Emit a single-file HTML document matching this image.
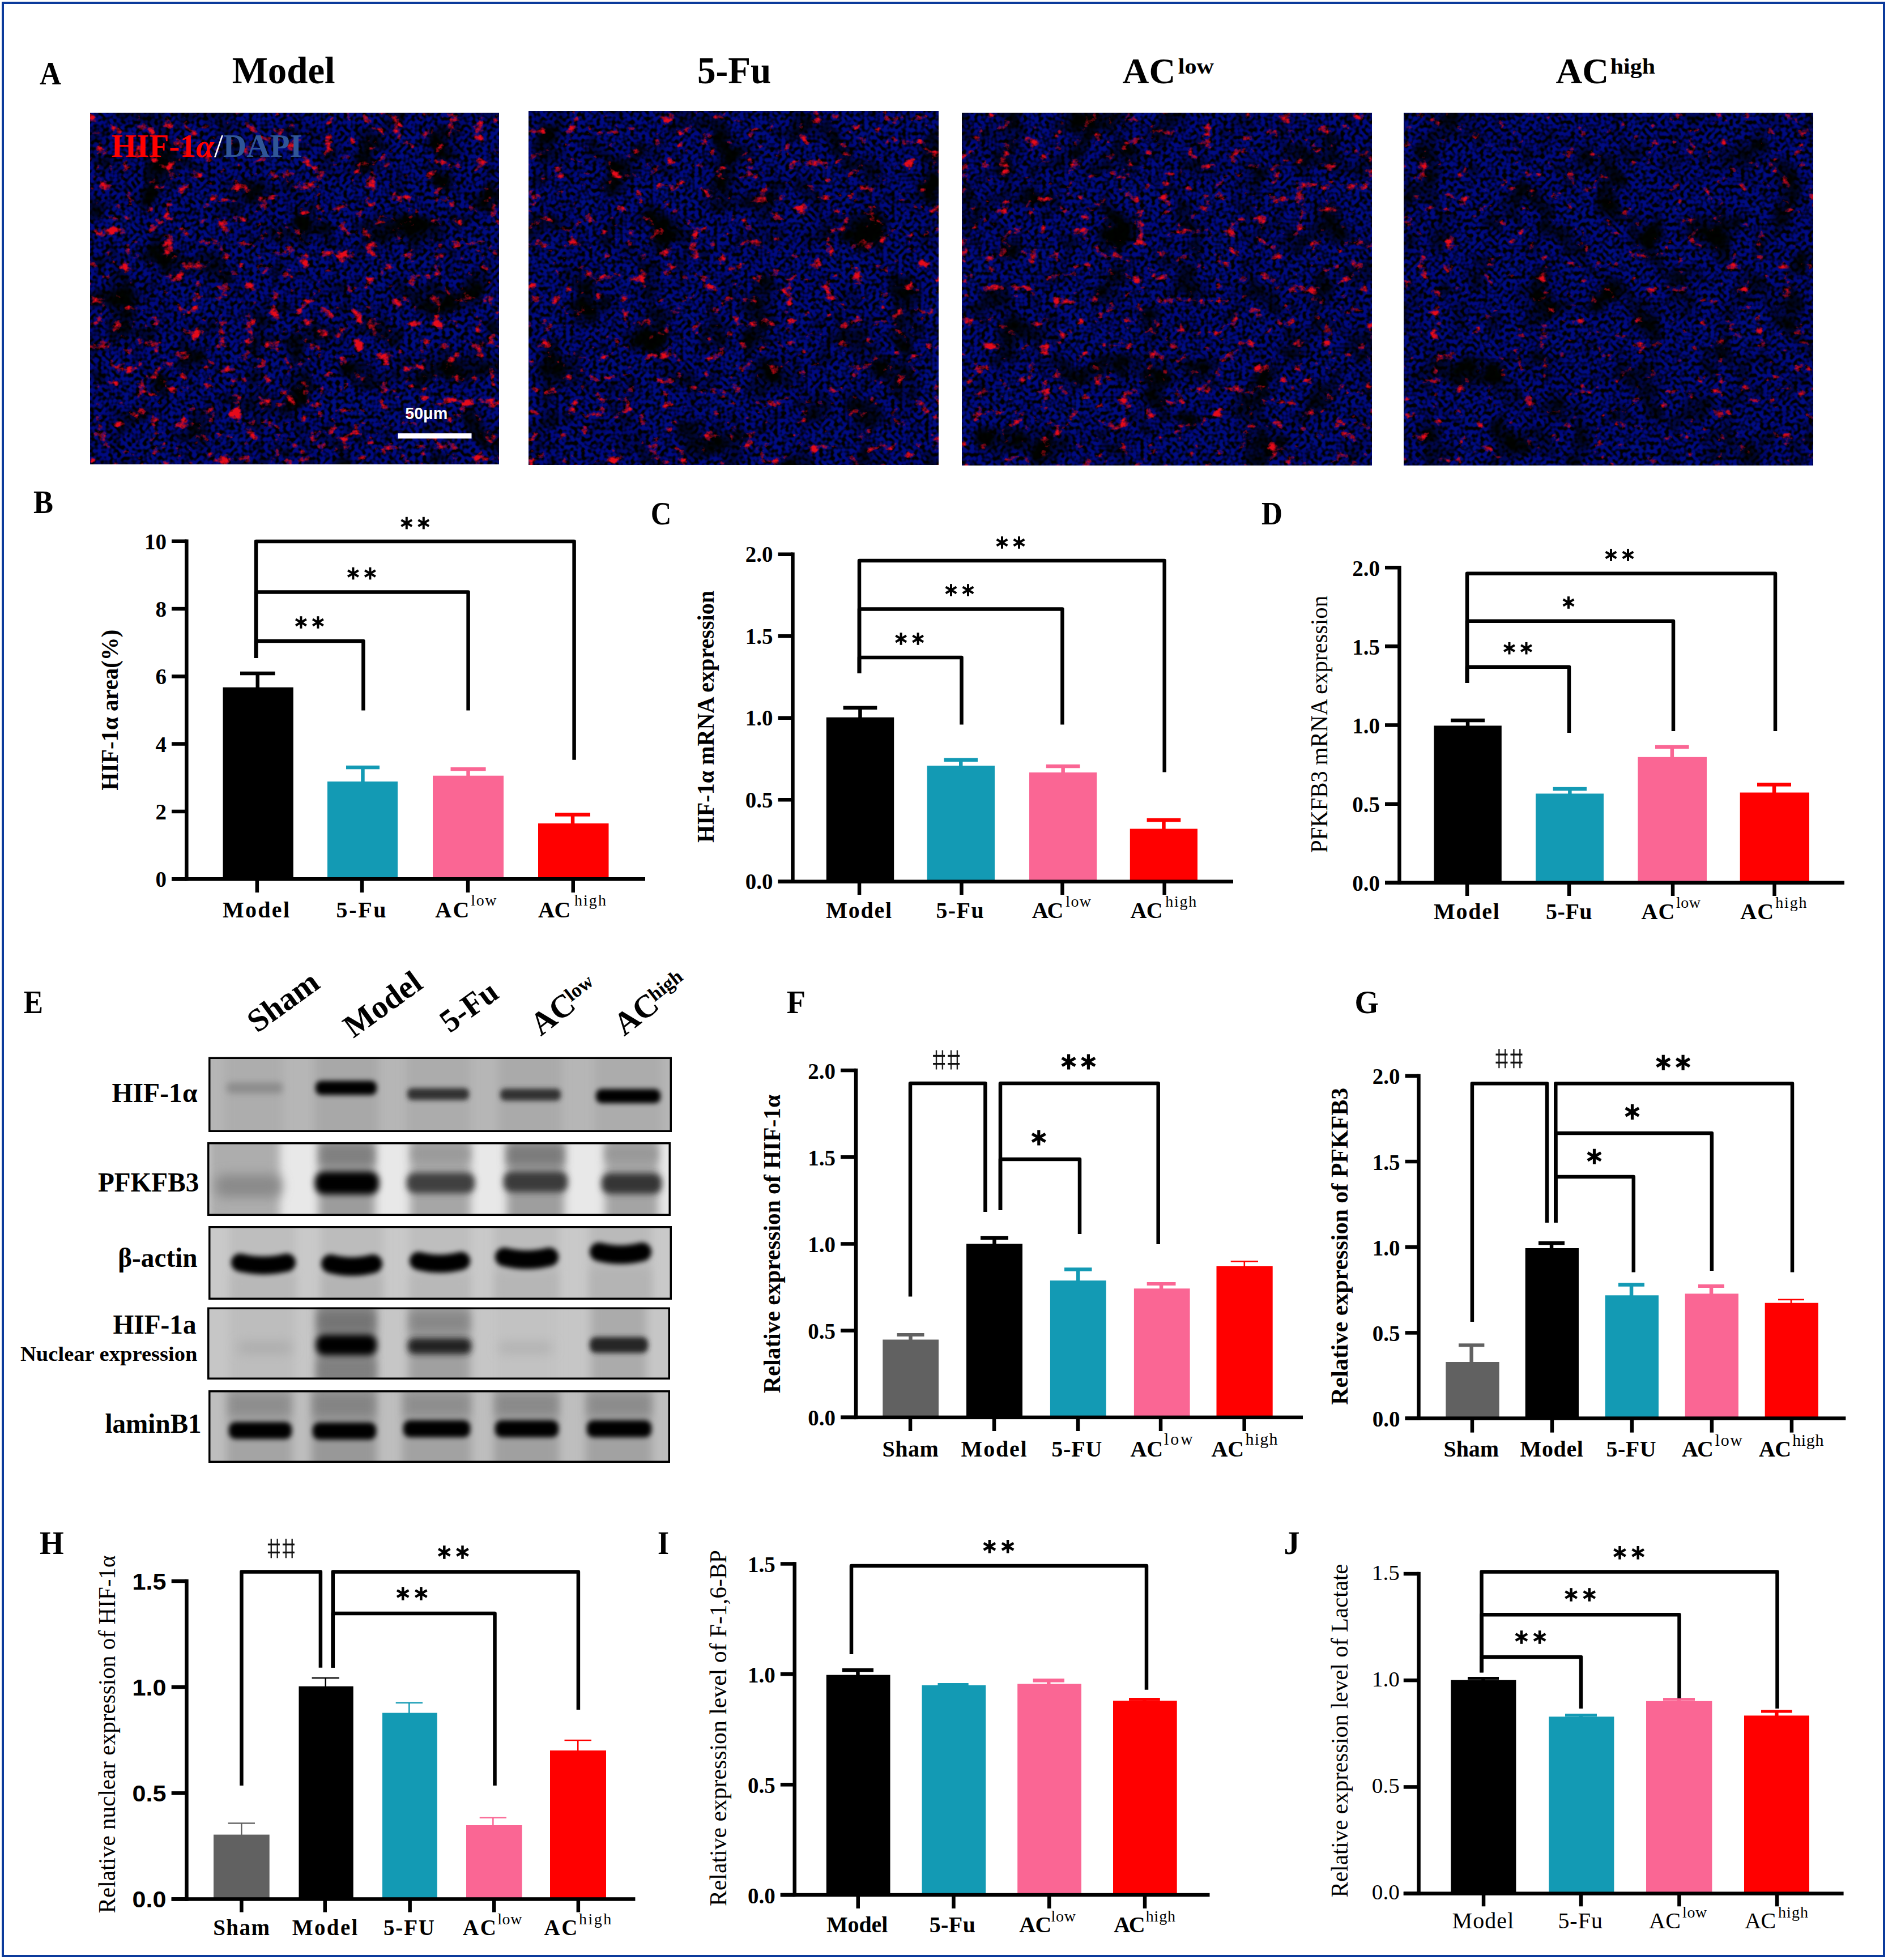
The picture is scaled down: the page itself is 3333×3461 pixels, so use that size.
<!DOCTYPE html>
<html><head><meta charset="utf-8"><title>Figure</title>
<style>html,body{margin:0;padding:0;background:#fff;}svg{display:block;}</style>
</head><body>
<svg width="3333" height="3461" viewBox="0 0 3333 3461">
<defs>
<filter id="m1" x="0" y="0" width="100%" height="100%" color-interpolation-filters="sRGB">
  <feTurbulence type="fractalNoise" baseFrequency="0.15" numOctaves="1" seed="3" result="n1"/>
  <feColorMatrix in="n1" type="matrix" values="0 0 0 0 0  0 0 0.2 0 -0.06  0 0 4.0 0 -1.35  0 0 0 0 1" result="c0"/>
  <feColorMatrix in="c0" type="matrix" values="1 0 0 0 0  0 1 0 0 0  0 0 0.500 0 0  0 0 0 0 1" result="cells"/>
  <feTurbulence type="fractalNoise" baseFrequency="0.016" numOctaves="3" seed="8" result="n2"/>
  <feColorMatrix in="n2" type="matrix" values="0 0 1 0 0  0 0 1 0 0  0 0 3.4 0 -0.72  0 0 0 0 1" result="patch"/>
  <feBlend in="cells" in2="patch" mode="multiply" result="blue"/>
  <feTurbulence type="fractalNoise" baseFrequency="0.042 0.05" numOctaves="4" seed="14" result="n3"/>
  <feColorMatrix in="n3" type="matrix" values="0 0 0 0 0.9  0 0 0 0 0.04  0 0 0 0 0.1  5.5 0 0 0 -3.42" result="red"/>
  <feComposite in="red" in2="blue" operator="over"/>
</filter>
<filter id="m2" x="0" y="0" width="100%" height="100%" color-interpolation-filters="sRGB">
  <feTurbulence type="fractalNoise" baseFrequency="0.15" numOctaves="1" seed="23" result="n1"/>
  <feColorMatrix in="n1" type="matrix" values="0 0 0 0 0  0 0 0.2 0 -0.06  0 0 4.0 0 -1.35  0 0 0 0 1" result="c0"/>
  <feColorMatrix in="c0" type="matrix" values="1 0 0 0 0  0 1 0 0 0  0 0 0.500 0 0  0 0 0 0 1" result="cells"/>
  <feTurbulence type="fractalNoise" baseFrequency="0.016" numOctaves="3" seed="28" result="n2"/>
  <feColorMatrix in="n2" type="matrix" values="0 0 1 0 0  0 0 1 0 0  0 0 3.4 0 -0.72  0 0 0 0 1" result="patch"/>
  <feBlend in="cells" in2="patch" mode="multiply" result="blue"/>
  <feTurbulence type="fractalNoise" baseFrequency="0.042 0.05" numOctaves="4" seed="34" result="n3"/>
  <feColorMatrix in="n3" type="matrix" values="0 0 0 0 0.9  0 0 0 0 0.04  0 0 0 0 0.1  5.5 0 0 0 -3.6" result="red"/>
  <feComposite in="red" in2="blue" operator="over"/>
</filter>
<filter id="m3" x="0" y="0" width="100%" height="100%" color-interpolation-filters="sRGB">
  <feTurbulence type="fractalNoise" baseFrequency="0.15" numOctaves="1" seed="41" result="n1"/>
  <feColorMatrix in="n1" type="matrix" values="0 0 0 0 0  0 0 0.2 0 -0.06  0 0 4.0 0 -1.35  0 0 0 0 1" result="c0"/>
  <feColorMatrix in="c0" type="matrix" values="1 0 0 0 0  0 1 0 0 0  0 0 0.500 0 0  0 0 0 0 1" result="cells"/>
  <feTurbulence type="fractalNoise" baseFrequency="0.016" numOctaves="3" seed="46" result="n2"/>
  <feColorMatrix in="n2" type="matrix" values="0 0 1 0 0  0 0 1 0 0  0 0 3.4 0 -0.72  0 0 0 0 1" result="patch"/>
  <feBlend in="cells" in2="patch" mode="multiply" result="blue"/>
  <feTurbulence type="fractalNoise" baseFrequency="0.042 0.05" numOctaves="4" seed="52" result="n3"/>
  <feColorMatrix in="n3" type="matrix" values="0 0 0 0 0.9  0 0 0 0 0.04  0 0 0 0 0.1  5.5 0 0 0 -3.55" result="red"/>
  <feComposite in="red" in2="blue" operator="over"/>
</filter>
<filter id="m4" x="0" y="0" width="100%" height="100%" color-interpolation-filters="sRGB">
  <feTurbulence type="fractalNoise" baseFrequency="0.15" numOctaves="1" seed="57" result="n1"/>
  <feColorMatrix in="n1" type="matrix" values="0 0 0 0 0  0 0 0.2 0 -0.06  0 0 4.0 0 -1.35  0 0 0 0 1" result="c0"/>
  <feColorMatrix in="c0" type="matrix" values="1 0 0 0 0  0 1 0 0 0  0 0 0.500 0 0  0 0 0 0 1" result="cells"/>
  <feTurbulence type="fractalNoise" baseFrequency="0.016" numOctaves="3" seed="62" result="n2"/>
  <feColorMatrix in="n2" type="matrix" values="0 0 1 0 0  0 0 1 0 0  0 0 3.4 0 -0.72  0 0 0 0 1" result="patch"/>
  <feBlend in="cells" in2="patch" mode="multiply" result="blue"/>
  <feTurbulence type="fractalNoise" baseFrequency="0.042 0.05" numOctaves="4" seed="68" result="n3"/>
  <feColorMatrix in="n3" type="matrix" values="0 0 0 0 0.9  0 0 0 0 0.04  0 0 0 0 0.1  5.5 0 0 0 -3.75" result="red"/>
  <feComposite in="red" in2="blue" operator="over"/>
</filter><filter id="blu4" filterUnits="userSpaceOnUse" x="360" y="2150" width="840" height="160"><feGaussianBlur stdDeviation="4"/></filter><filter id="bl3" x="-30%" y="-100%" width="160%" height="300%"><feGaussianBlur stdDeviation="3"/></filter><filter id="bl4" x="-30%" y="-100%" width="160%" height="300%"><feGaussianBlur stdDeviation="4"/></filter><filter id="bl5" x="-30%" y="-100%" width="160%" height="300%"><feGaussianBlur stdDeviation="5"/></filter><filter id="bl6" x="-30%" y="-100%" width="160%" height="300%"><feGaussianBlur stdDeviation="6"/></filter><filter id="bl8" x="-30%" y="-100%" width="160%" height="300%"><feGaussianBlur stdDeviation="8"/></filter><filter id="bl10" x="-30%" y="-100%" width="160%" height="300%"><feGaussianBlur stdDeviation="10"/></filter><clipPath id="cb1"><rect x="368" y="1866.5" width="818" height="132.5"/></clipPath><clipPath id="cb2"><rect x="366" y="2017" width="818" height="130"/></clipPath><clipPath id="cb3"><rect x="368" y="2165" width="818" height="130"/></clipPath><clipPath id="cb4"><rect x="366" y="2308.5" width="817" height="127.5"/></clipPath><clipPath id="cb5"><rect x="368" y="2455" width="815" height="128"/></clipPath></defs>
<rect width="3333" height="3461" fill="#fff"/>
<rect x="5" y="5" width="3321" height="3449" fill="none" stroke="#0B3A9B" stroke-width="4"/>
<rect x="159.5" y="199.0" width="721.0" height="621.0" fill="#000" filter="url(#m1)"/>
<rect x="933.7" y="196.5" width="723.1" height="623.8" fill="#000" filter="url(#m2)"/>
<rect x="1698.0" y="199.0" width="724.0" height="623.0" fill="#000" filter="url(#m3)"/>
<rect x="2478.0" y="199.0" width="723.0" height="623.0" fill="#000" filter="url(#m4)"/>
<text x="70.0" y="148.6" font-size="56" font-family="Liberation Serif" font-weight="bold" textLength="38.0" lengthAdjust="spacingAndGlyphs">A</text>
<text x="409.7" y="146.8" font-size="67" font-family="Liberation Serif" font-weight="bold" textLength="182.0" lengthAdjust="spacingAndGlyphs">Model</text>
<text x="1230.9" y="146.8" font-size="67" font-family="Liberation Serif" font-weight="bold" textLength="130.5" lengthAdjust="spacingAndGlyphs">5-Fu</text>
<text x="1981.6" y="147.0" font-size="64" font-family="Liberation Serif" font-weight="bold" textLength="93.6" lengthAdjust="spacingAndGlyphs">AC</text>
<text x="2079.7" y="129.5" font-size="38" font-family="Liberation Serif" font-weight="bold" textLength="63.3" lengthAdjust="spacingAndGlyphs">low</text>
<text x="2746.5" y="147.0" font-size="64" font-family="Liberation Serif" font-weight="bold" textLength="93.6" lengthAdjust="spacingAndGlyphs">AC</text>
<text x="2842.7" y="129.5" font-size="38" font-family="Liberation Serif" font-weight="bold" textLength="79.3" lengthAdjust="spacingAndGlyphs">high</text>
<text x="196.8" y="277.3" font-size="57" font-family="Liberation Serif" font-weight="bold" textLength="337" lengthAdjust="spacingAndGlyphs"><tspan fill="#FF0000">HIF-1</tspan><tspan fill="#FF0000" font-style="italic">α</tspan><tspan fill="#fff" font-weight="normal">/</tspan><tspan fill="#2F5597">DAPI</tspan></text>
<text x="715.2" y="739.8" font-size="30" font-family="Liberation Sans" font-weight="bold" textLength="75.0" lengthAdjust="spacingAndGlyphs" fill="#fff">50μm</text>
<rect x="702.5" y="765.2" width="130.0" height="9.2" fill="#fff" />
<rect x="393.5" y="1213.7" width="124.3" height="338.5" fill="#000" />
<rect x="578.0" y="1380.0" width="124.0" height="172.2" fill="#139AB4" />
<rect x="764.0" y="1369.7" width="125.0" height="182.5" fill="#FA6694" />
<rect x="950.0" y="1454.0" width="124.5" height="98.2" fill="#FF0000" />
<rect x="424.0" y="1185.8" width="61.5" height="6.5" fill="#000" />
<rect x="451.5" y="1189.0" width="6.5" height="25.7" fill="#000" />
<rect x="611.0" y="1351.8" width="59.0" height="6.5" fill="#139AB4" />
<rect x="637.2" y="1355.0" width="6.5" height="26.0" fill="#139AB4" />
<rect x="795.5" y="1354.8" width="62.1" height="6.5" fill="#FA6694" />
<rect x="823.3" y="1358.0" width="6.5" height="12.7" fill="#FA6694" />
<rect x="980.0" y="1435.2" width="62.0" height="6.5" fill="#FF0000" />
<rect x="1007.8" y="1438.5" width="6.5" height="16.5" fill="#FF0000" />
<rect x="326.1" y="952.5" width="6.5" height="602.9" fill="#000" />
<rect x="303.0" y="1549.0" width="836.0" height="6.5" fill="#000" />
<rect x="303.0" y="952.5" width="26.4" height="6.5" fill="#000" />
<text x="294.0" y="969.8" font-size="39" font-family="Liberation Serif" font-weight="bold" text-anchor="end">10</text>
<rect x="303.0" y="1071.8" width="26.4" height="6.5" fill="#000" />
<text x="294.0" y="1089.1" font-size="39" font-family="Liberation Serif" font-weight="bold" text-anchor="end">8</text>
<rect x="303.0" y="1191.2" width="26.4" height="6.5" fill="#000" />
<text x="294.0" y="1208.4" font-size="39" font-family="Liberation Serif" font-weight="bold" text-anchor="end">6</text>
<rect x="303.0" y="1310.3" width="26.4" height="6.5" fill="#000" />
<text x="294.0" y="1327.6" font-size="39" font-family="Liberation Serif" font-weight="bold" text-anchor="end">4</text>
<rect x="303.0" y="1429.7" width="26.4" height="6.5" fill="#000" />
<text x="294.0" y="1446.9" font-size="39" font-family="Liberation Serif" font-weight="bold" text-anchor="end">2</text>
<rect x="303.0" y="1549.0" width="26.4" height="6.5" fill="#000" />
<text x="294.0" y="1566.2" font-size="39" font-family="Liberation Serif" font-weight="bold" text-anchor="end">0</text>
<rect x="450.6" y="1552.2" width="6.5" height="23.8" fill="#000" />
<rect x="635.8" y="1552.2" width="6.5" height="23.8" fill="#000" />
<rect x="822.8" y="1552.2" width="6.5" height="23.8" fill="#000" />
<rect x="1008.5" y="1552.2" width="6.5" height="23.8" fill="#000" />
<polyline points="452.0,1162.0 452.0,956.0 1013.6,956.0 1013.6,1341.7" fill="none" stroke="#000" stroke-width="6.5" stroke-linejoin="round"/>
<polyline points="452.0,1162.0 452.0,1045.6 826.6,1045.6 826.6,1254.5" fill="none" stroke="#000" stroke-width="6.5" stroke-linejoin="round"/>
<polyline points="452.0,1162.0 452.0,1132.0 641.4,1132.0 641.4,1254.5" fill="none" stroke="#000" stroke-width="6.5" stroke-linejoin="round"/>
<text x="59.0" y="906.2" font-size="56" font-family="Liberation Serif" font-weight="bold" textLength="35.0" lengthAdjust="spacingAndGlyphs">B</text>
<text x="208.4" y="1395.7" font-size="42" font-family="Liberation Serif" font-weight="bold" textLength="284.0" lengthAdjust="spacingAndGlyphs" transform="rotate(-90 208.4 1395.7)">HIF-1α area(%)</text>
<text x="393.0" y="1620.0" font-size="40" font-family="Liberation Serif" font-weight="bold" textLength="118.0" lengthAdjust="spacing">Model</text>
<text x="593.5" y="1620.0" font-size="40" font-family="Liberation Serif" font-weight="bold" textLength="88.0" lengthAdjust="spacing">5-Fu</text>
<text x="768.3" y="1620.0" font-size="40" font-family="Liberation Serif" font-weight="bold" textLength="60.0" lengthAdjust="spacing">AC</text>
<text x="831.3" y="1598.8" font-size="28" font-family="Liberation Serif" textLength="45.3" lengthAdjust="spacing">low</text>
<text x="950.0" y="1620.0" font-size="40" font-family="Liberation Serif" font-weight="bold" textLength="57.3" lengthAdjust="spacing">AC</text>
<text x="1013.9" y="1598.8" font-size="28" font-family="Liberation Serif" textLength="56.0" lengthAdjust="spacing">high</text>
<line x1="717.8" y1="912.8" x2="717.8" y2="934.4" stroke="#000" stroke-width="4.0"/>
<line x1="708.4" y1="918.2" x2="727.2" y2="929.0" stroke="#000" stroke-width="4.0"/>
<line x1="727.2" y1="918.2" x2="708.4" y2="929.0" stroke="#000" stroke-width="4.0"/>
<line x1="747.8" y1="912.8" x2="747.8" y2="934.4" stroke="#000" stroke-width="4.0"/>
<line x1="738.4" y1="918.2" x2="757.2" y2="929.0" stroke="#000" stroke-width="4.0"/>
<line x1="757.2" y1="918.2" x2="738.4" y2="929.0" stroke="#000" stroke-width="4.0"/>
<line x1="623.4" y1="1001.8" x2="623.4" y2="1023.4" stroke="#000" stroke-width="4.0"/>
<line x1="614.0" y1="1007.2" x2="632.8" y2="1018.0" stroke="#000" stroke-width="4.0"/>
<line x1="632.8" y1="1007.2" x2="614.0" y2="1018.0" stroke="#000" stroke-width="4.0"/>
<line x1="653.4" y1="1001.8" x2="653.4" y2="1023.4" stroke="#000" stroke-width="4.0"/>
<line x1="644.0" y1="1007.2" x2="662.8" y2="1018.0" stroke="#000" stroke-width="4.0"/>
<line x1="662.8" y1="1007.2" x2="644.0" y2="1018.0" stroke="#000" stroke-width="4.0"/>
<line x1="531.4" y1="1088.2" x2="531.4" y2="1109.8" stroke="#000" stroke-width="4.0"/>
<line x1="522.0" y1="1093.6" x2="540.8" y2="1104.4" stroke="#000" stroke-width="4.0"/>
<line x1="540.8" y1="1093.6" x2="522.0" y2="1104.4" stroke="#000" stroke-width="4.0"/>
<line x1="561.4" y1="1088.2" x2="561.4" y2="1109.8" stroke="#000" stroke-width="4.0"/>
<line x1="552.0" y1="1093.6" x2="570.8" y2="1104.4" stroke="#000" stroke-width="4.0"/>
<line x1="570.8" y1="1093.6" x2="552.0" y2="1104.4" stroke="#000" stroke-width="4.0"/>
<rect x="1458.8" y="1266.7" width="119.4" height="290.1" fill="#000" />
<rect x="1636.6" y="1352.0" width="119.4" height="204.8" fill="#139AB4" />
<rect x="1817.0" y="1364.0" width="119.3" height="192.8" fill="#FA6694" />
<rect x="1994.8" y="1463.5" width="119.2" height="93.3" fill="#FF0000" />
<rect x="1488.6" y="1246.5" width="59.7" height="6.5" fill="#000" />
<rect x="1515.2" y="1249.7" width="6.5" height="18.0" fill="#000" />
<rect x="1666.5" y="1338.5" width="59.5" height="6.5" fill="#139AB4" />
<rect x="1693.0" y="1341.7" width="6.5" height="11.3" fill="#139AB4" />
<rect x="1846.8" y="1349.8" width="59.7" height="6.5" fill="#FA6694" />
<rect x="1873.4" y="1353.0" width="6.5" height="12.0" fill="#FA6694" />
<rect x="2024.6" y="1444.8" width="59.7" height="6.5" fill="#FF0000" />
<rect x="2051.2" y="1448.0" width="6.5" height="16.5" fill="#FF0000" />
<rect x="1396.2" y="975.5" width="6.5" height="584.5" fill="#000" />
<rect x="1373.5" y="1553.5" width="803.5" height="6.5" fill="#000" />
<rect x="1373.5" y="975.5" width="25.9" height="6.5" fill="#000" />
<text x="1364.5" y="992.0" font-size="39" font-family="Liberation Serif" font-weight="bold" text-anchor="end">2.0</text>
<rect x="1373.5" y="1120.0" width="25.9" height="6.5" fill="#000" />
<text x="1364.5" y="1136.5" font-size="39" font-family="Liberation Serif" font-weight="bold" text-anchor="end">1.5</text>
<rect x="1373.5" y="1264.5" width="25.9" height="6.5" fill="#000" />
<text x="1364.5" y="1281.0" font-size="39" font-family="Liberation Serif" font-weight="bold" text-anchor="end">1.0</text>
<rect x="1373.5" y="1409.0" width="25.9" height="6.5" fill="#000" />
<text x="1364.5" y="1425.5" font-size="39" font-family="Liberation Serif" font-weight="bold" text-anchor="end">0.5</text>
<rect x="1373.5" y="1553.5" width="25.9" height="6.5" fill="#000" />
<text x="1364.5" y="1570.0" font-size="39" font-family="Liberation Serif" font-weight="bold" text-anchor="end">0.0</text>
<rect x="1513.8" y="1556.8" width="6.5" height="23.2" fill="#000" />
<rect x="1694.2" y="1556.8" width="6.5" height="23.2" fill="#000" />
<rect x="1872.2" y="1556.8" width="6.5" height="23.2" fill="#000" />
<rect x="2052.4" y="1556.8" width="6.5" height="23.2" fill="#000" />
<polyline points="1517.0,1189.0 1517.0,990.0 2055.7,990.0 2055.7,1363.6" fill="none" stroke="#000" stroke-width="6.5" stroke-linejoin="round"/>
<polyline points="1517.0,1189.0 1517.0,1075.5 1875.4,1075.5 1875.4,1279.5" fill="none" stroke="#000" stroke-width="6.5" stroke-linejoin="round"/>
<polyline points="1517.0,1189.0 1517.0,1161.0 1697.5,1161.0 1697.5,1279.5" fill="none" stroke="#000" stroke-width="6.5" stroke-linejoin="round"/>
<text x="1148.7" y="926.0" font-size="56" font-family="Liberation Serif" font-weight="bold" textLength="36.6" lengthAdjust="spacingAndGlyphs">C</text>
<text x="1260.0" y="1488.0" font-size="42" font-family="Liberation Serif" font-weight="bold" textLength="445.0" lengthAdjust="spacingAndGlyphs" transform="rotate(-90 1260.0 1488.0)">HIF-1α mRNA expression</text>
<line x1="1769.0" y1="947.2" x2="1769.0" y2="968.8" stroke="#000" stroke-width="4.0"/>
<line x1="1759.6" y1="952.6" x2="1778.4" y2="963.4" stroke="#000" stroke-width="4.0"/>
<line x1="1778.4" y1="952.6" x2="1759.6" y2="963.4" stroke="#000" stroke-width="4.0"/>
<line x1="1799.0" y1="947.2" x2="1799.0" y2="968.8" stroke="#000" stroke-width="4.0"/>
<line x1="1789.6" y1="952.6" x2="1808.4" y2="963.4" stroke="#000" stroke-width="4.0"/>
<line x1="1808.4" y1="952.6" x2="1789.6" y2="963.4" stroke="#000" stroke-width="4.0"/>
<line x1="1679.0" y1="1031.2" x2="1679.0" y2="1052.8" stroke="#000" stroke-width="4.0"/>
<line x1="1669.6" y1="1036.6" x2="1688.4" y2="1047.4" stroke="#000" stroke-width="4.0"/>
<line x1="1688.4" y1="1036.6" x2="1669.6" y2="1047.4" stroke="#000" stroke-width="4.0"/>
<line x1="1709.0" y1="1031.2" x2="1709.0" y2="1052.8" stroke="#000" stroke-width="4.0"/>
<line x1="1699.6" y1="1036.6" x2="1718.4" y2="1047.4" stroke="#000" stroke-width="4.0"/>
<line x1="1718.4" y1="1036.6" x2="1699.6" y2="1047.4" stroke="#000" stroke-width="4.0"/>
<line x1="1590.6" y1="1117.2" x2="1590.6" y2="1138.8" stroke="#000" stroke-width="4.0"/>
<line x1="1581.2" y1="1122.6" x2="1600.0" y2="1133.4" stroke="#000" stroke-width="4.0"/>
<line x1="1600.0" y1="1122.6" x2="1581.2" y2="1133.4" stroke="#000" stroke-width="4.0"/>
<line x1="1620.6" y1="1117.2" x2="1620.6" y2="1138.8" stroke="#000" stroke-width="4.0"/>
<line x1="1611.2" y1="1122.6" x2="1630.0" y2="1133.4" stroke="#000" stroke-width="4.0"/>
<line x1="1630.0" y1="1122.6" x2="1611.2" y2="1133.4" stroke="#000" stroke-width="4.0"/>
<rect x="2531.4" y="1281.4" width="119.4" height="277.4" fill="#000" />
<rect x="2711.0" y="1401.4" width="120.0" height="157.4" fill="#139AB4" />
<rect x="2891.4" y="1336.8" width="121.6" height="222.0" fill="#FA6694" />
<rect x="3071.7" y="1399.5" width="122.3" height="159.3" fill="#FF0000" />
<rect x="2561.0" y="1268.8" width="60.0" height="6.5" fill="#000" />
<rect x="2587.8" y="1272.0" width="6.5" height="10.4" fill="#000" />
<rect x="2741.6" y="1389.8" width="59.4" height="6.5" fill="#139AB4" />
<rect x="2768.1" y="1393.0" width="6.5" height="9.4" fill="#139AB4" />
<rect x="2922.0" y="1315.8" width="59.6" height="6.5" fill="#FA6694" />
<rect x="2948.6" y="1319.0" width="6.5" height="18.8" fill="#FA6694" />
<rect x="3102.0" y="1382.2" width="60.0" height="6.5" fill="#FF0000" />
<rect x="3128.8" y="1385.5" width="6.5" height="15.0" fill="#FF0000" />
<rect x="2467.2" y="999.0" width="6.5" height="563.1" fill="#000" />
<rect x="2445.0" y="1555.5" width="811.0" height="6.5" fill="#000" />
<rect x="2445.0" y="999.0" width="25.5" height="6.5" fill="#000" />
<text x="2436.0" y="1016.7" font-size="39" font-family="Liberation Serif" font-weight="bold" text-anchor="end">2.0</text>
<rect x="2445.0" y="1138.0" width="25.5" height="6.5" fill="#000" />
<text x="2436.0" y="1155.8" font-size="39" font-family="Liberation Serif" font-weight="bold" text-anchor="end">1.5</text>
<rect x="2445.0" y="1277.2" width="25.5" height="6.5" fill="#000" />
<text x="2436.0" y="1295.0" font-size="39" font-family="Liberation Serif" font-weight="bold" text-anchor="end">1.0</text>
<rect x="2445.0" y="1416.5" width="25.5" height="6.5" fill="#000" />
<text x="2436.0" y="1434.3" font-size="39" font-family="Liberation Serif" font-weight="bold" text-anchor="end">0.5</text>
<rect x="2445.0" y="1555.5" width="25.5" height="6.5" fill="#000" />
<text x="2436.0" y="1573.3" font-size="39" font-family="Liberation Serif" font-weight="bold" text-anchor="end">0.0</text>
<rect x="2586.8" y="1558.8" width="6.5" height="23.2" fill="#000" />
<rect x="2766.8" y="1558.8" width="6.5" height="23.2" fill="#000" />
<rect x="2949.8" y="1558.8" width="6.5" height="23.2" fill="#000" />
<rect x="3129.3" y="1558.8" width="6.5" height="23.2" fill="#000" />
<polyline points="2590.0,1206.0 2590.0,1012.7 3134.0,1012.7 3134.0,1291.0" fill="none" stroke="#000" stroke-width="6.5" stroke-linejoin="round"/>
<polyline points="2590.0,1206.0 2590.0,1096.8 2954.0,1096.8 2954.0,1291.0" fill="none" stroke="#000" stroke-width="6.5" stroke-linejoin="round"/>
<polyline points="2590.0,1206.0 2590.0,1177.8 2770.0,1177.8 2770.0,1294.0" fill="none" stroke="#000" stroke-width="6.5" stroke-linejoin="round"/>
<text x="2226.9" y="926.0" font-size="56" font-family="Liberation Serif" font-weight="bold" textLength="37.0" lengthAdjust="spacingAndGlyphs">D</text>
<text x="2343.0" y="1506.0" font-size="42" font-family="Liberation Serif" textLength="454.0" lengthAdjust="spacingAndGlyphs" transform="rotate(-90 2343.0 1506.0)">PFKFB3 mRNA expression</text>
<line x1="2844.0" y1="969.2" x2="2844.0" y2="990.8" stroke="#000" stroke-width="4.0"/>
<line x1="2834.6" y1="974.6" x2="2853.4" y2="985.4" stroke="#000" stroke-width="4.0"/>
<line x1="2853.4" y1="974.6" x2="2834.6" y2="985.4" stroke="#000" stroke-width="4.0"/>
<line x1="2874.0" y1="969.2" x2="2874.0" y2="990.8" stroke="#000" stroke-width="4.0"/>
<line x1="2864.6" y1="974.6" x2="2883.4" y2="985.4" stroke="#000" stroke-width="4.0"/>
<line x1="2883.4" y1="974.6" x2="2864.6" y2="985.4" stroke="#000" stroke-width="4.0"/>
<line x1="2769.0" y1="1053.2" x2="2769.0" y2="1074.8" stroke="#000" stroke-width="4.0"/>
<line x1="2759.6" y1="1058.6" x2="2778.4" y2="1069.4" stroke="#000" stroke-width="4.0"/>
<line x1="2778.4" y1="1058.6" x2="2759.6" y2="1069.4" stroke="#000" stroke-width="4.0"/>
<line x1="2664.5" y1="1133.9" x2="2664.5" y2="1155.5" stroke="#000" stroke-width="4.0"/>
<line x1="2655.1" y1="1139.3" x2="2673.9" y2="1150.1" stroke="#000" stroke-width="4.0"/>
<line x1="2673.9" y1="1139.3" x2="2655.1" y2="1150.1" stroke="#000" stroke-width="4.0"/>
<line x1="2694.5" y1="1133.9" x2="2694.5" y2="1155.5" stroke="#000" stroke-width="4.0"/>
<line x1="2685.1" y1="1139.3" x2="2703.9" y2="1150.1" stroke="#000" stroke-width="4.0"/>
<line x1="2703.9" y1="1139.3" x2="2685.1" y2="1150.1" stroke="#000" stroke-width="4.0"/>
<rect x="1558.3" y="2365.5" width="98.7" height="137.3" fill="#616161" />
<rect x="1706.0" y="2196.4" width="99.0" height="306.4" fill="#000" />
<rect x="1853.9" y="2261.2" width="98.8" height="241.6" fill="#139AB4" />
<rect x="2001.9" y="2275.3" width="98.7" height="227.5" fill="#FA6694" />
<rect x="2147.5" y="2236.0" width="99.2" height="266.8" fill="#FF0000" />
<rect x="1583.5" y="2354.0" width="48.0" height="6.0" fill="#616161" />
<rect x="1604.2" y="2357.0" width="6.5" height="9.5" fill="#616161" />
<rect x="1731.0" y="2182.8" width="49.0" height="6.5" fill="#000" />
<rect x="1752.2" y="2186.0" width="6.5" height="11.4" fill="#000" />
<rect x="1879.0" y="2238.3" width="48.5" height="6.5" fill="#139AB4" />
<rect x="1900.0" y="2241.6" width="6.5" height="20.6" fill="#139AB4" />
<rect x="2024.7" y="2264.0" width="50.8" height="6.0" fill="#FA6694" />
<rect x="2046.8" y="2267.0" width="6.5" height="9.3" fill="#FA6694" />
<rect x="2172.7" y="2226.2" width="48.3" height="2.6" fill="#FF0000" />
<rect x="2195.5" y="2227.5" width="2.6" height="9.5" fill="#FF0000" />
<rect x="1507.8" y="1886.8" width="6.5" height="619.3" fill="#000" />
<rect x="1484.0" y="2499.6" width="816.0" height="6.5" fill="#000" />
<rect x="1484.0" y="1886.8" width="27.0" height="6.5" fill="#000" />
<text x="1475.0" y="1904.5" font-size="39" font-family="Liberation Serif" font-weight="bold" text-anchor="end">2.0</text>
<rect x="1484.0" y="2040.0" width="27.0" height="6.5" fill="#000" />
<text x="1475.0" y="2057.7" font-size="39" font-family="Liberation Serif" font-weight="bold" text-anchor="end">1.5</text>
<rect x="1484.0" y="2193.2" width="27.0" height="6.5" fill="#000" />
<text x="1475.0" y="2210.9" font-size="39" font-family="Liberation Serif" font-weight="bold" text-anchor="end">1.0</text>
<rect x="1484.0" y="2346.3" width="27.0" height="6.5" fill="#000" />
<text x="1475.0" y="2364.1" font-size="39" font-family="Liberation Serif" font-weight="bold" text-anchor="end">0.5</text>
<rect x="1484.0" y="2499.6" width="27.0" height="6.5" fill="#000" />
<text x="1475.0" y="2517.3" font-size="39" font-family="Liberation Serif" font-weight="bold" text-anchor="end">0.0</text>
<rect x="1603.8" y="2502.8" width="6.5" height="24.2" fill="#000" />
<rect x="1751.8" y="2502.8" width="6.5" height="24.2" fill="#000" />
<rect x="1899.8" y="2502.8" width="6.5" height="24.2" fill="#000" />
<rect x="2045.8" y="2502.8" width="6.5" height="24.2" fill="#000" />
<rect x="2193.4" y="2502.8" width="6.5" height="24.2" fill="#000" />
<polyline points="1607.0,2289.6 1607.0,1913.0 1739.4,1913.0 1739.4,2140.0" fill="none" stroke="#000" stroke-width="6.5" stroke-linejoin="round"/>
<polyline points="1766.0,2137.0 1766.0,1913.0 2044.7,1913.0 2044.7,2197.0" fill="none" stroke="#000" stroke-width="6.5" stroke-linejoin="round"/>
<polyline points="1766.0,2137.0 1766.0,2047.0 1906.0,2047.0 1906.0,2179.0" fill="none" stroke="#000" stroke-width="6.5" stroke-linejoin="round"/>
<text x="1388.7" y="1789.0" font-size="56" font-family="Liberation Serif" font-weight="bold" textLength="33.3" lengthAdjust="spacingAndGlyphs">F</text>
<text x="1377.0" y="2460.0" font-size="42" font-family="Liberation Serif" font-weight="bold" textLength="527.0" lengthAdjust="spacingAndGlyphs" transform="rotate(-90 1377.0 2460.0)">Relative expression of HIF-1α</text>
<line x1="1653.0" y1="1854.5" x2="1653.0" y2="1888.5" stroke="#222" stroke-width="2.4"/>
<line x1="1663.9" y1="1854.5" x2="1663.9" y2="1888.5" stroke="#222" stroke-width="2.4"/>
<line x1="1647.1" y1="1864.4" x2="1668.1" y2="1864.4" stroke="#111" stroke-width="3.2"/>
<line x1="1647.1" y1="1878.6" x2="1668.1" y2="1878.6" stroke="#111" stroke-width="3.2"/>
<line x1="1679.0" y1="1854.5" x2="1679.0" y2="1888.5" stroke="#222" stroke-width="2.4"/>
<line x1="1689.9" y1="1854.5" x2="1689.9" y2="1888.5" stroke="#222" stroke-width="2.4"/>
<line x1="1673.1" y1="1864.4" x2="1694.1" y2="1864.4" stroke="#111" stroke-width="3.2"/>
<line x1="1673.1" y1="1878.6" x2="1694.1" y2="1878.6" stroke="#111" stroke-width="3.2"/>
<line x1="1886.6" y1="1861.5" x2="1886.6" y2="1888.5" stroke="#000" stroke-width="5.2"/>
<line x1="1874.9" y1="1868.2" x2="1898.3" y2="1881.8" stroke="#000" stroke-width="5.2"/>
<line x1="1898.3" y1="1868.2" x2="1874.9" y2="1881.8" stroke="#000" stroke-width="5.2"/>
<line x1="1921.4" y1="1861.5" x2="1921.4" y2="1888.5" stroke="#000" stroke-width="5.2"/>
<line x1="1909.7" y1="1868.2" x2="1933.1" y2="1881.8" stroke="#000" stroke-width="5.2"/>
<line x1="1933.1" y1="1868.2" x2="1909.7" y2="1881.8" stroke="#000" stroke-width="5.2"/>
<line x1="1833.8" y1="1995.5" x2="1833.8" y2="2022.5" stroke="#000" stroke-width="5.2"/>
<line x1="1822.1" y1="2002.2" x2="1845.5" y2="2015.8" stroke="#000" stroke-width="5.2"/>
<line x1="1845.5" y1="2002.2" x2="1822.1" y2="2015.8" stroke="#000" stroke-width="5.2"/>
<rect x="2552.3" y="2405.0" width="94.4" height="99.6" fill="#616161" />
<rect x="2692.7" y="2204.0" width="94.3" height="300.6" fill="#000" />
<rect x="2833.7" y="2287.3" width="94.3" height="217.3" fill="#139AB4" />
<rect x="2974.7" y="2284.4" width="94.3" height="220.2" fill="#FA6694" />
<rect x="3115.7" y="2300.7" width="94.3" height="203.9" fill="#FF0000" />
<rect x="2575.0" y="2372.3" width="45.4" height="6.0" fill="#616161" />
<rect x="2594.4" y="2375.3" width="6.5" height="30.7" fill="#616161" />
<rect x="2716.0" y="2191.8" width="46.0" height="6.5" fill="#000" />
<rect x="2735.8" y="2195.0" width="6.5" height="10.0" fill="#000" />
<rect x="2857.0" y="2265.3" width="46.0" height="6.5" fill="#139AB4" />
<rect x="2876.8" y="2268.6" width="6.5" height="19.7" fill="#139AB4" />
<rect x="2998.0" y="2268.0" width="46.0" height="6.0" fill="#FA6694" />
<rect x="3017.8" y="2271.0" width="6.5" height="14.4" fill="#FA6694" />
<rect x="3139.0" y="2293.6" width="46.0" height="2.6" fill="#FF0000" />
<rect x="3160.7" y="2294.9" width="2.6" height="6.8" fill="#FF0000" />
<rect x="2501.2" y="1896.5" width="6.5" height="611.3" fill="#000" />
<rect x="2480.6" y="2501.3" width="777.8" height="6.5" fill="#000" />
<rect x="2480.6" y="1896.5" width="23.9" height="6.5" fill="#000" />
<text x="2471.6" y="1914.3" font-size="39" font-family="Liberation Serif" font-weight="bold" text-anchor="end">2.0</text>
<rect x="2480.6" y="2047.8" width="23.9" height="6.5" fill="#000" />
<text x="2471.6" y="2065.5" font-size="39" font-family="Liberation Serif" font-weight="bold" text-anchor="end">1.5</text>
<rect x="2480.6" y="2198.9" width="23.9" height="6.5" fill="#000" />
<text x="2471.6" y="2216.7" font-size="39" font-family="Liberation Serif" font-weight="bold" text-anchor="end">1.0</text>
<rect x="2480.6" y="2350.2" width="23.9" height="6.5" fill="#000" />
<text x="2471.6" y="2367.9" font-size="39" font-family="Liberation Serif" font-weight="bold" text-anchor="end">0.5</text>
<rect x="2480.6" y="2501.3" width="23.9" height="6.5" fill="#000" />
<text x="2471.6" y="2519.1" font-size="39" font-family="Liberation Serif" font-weight="bold" text-anchor="end">0.0</text>
<rect x="2595.7" y="2504.6" width="6.5" height="25.0" fill="#000" />
<rect x="2736.7" y="2504.6" width="6.5" height="25.0" fill="#000" />
<rect x="2877.7" y="2504.6" width="6.5" height="25.0" fill="#000" />
<rect x="3018.7" y="2504.6" width="6.5" height="25.0" fill="#000" />
<rect x="3159.7" y="2504.6" width="6.5" height="25.0" fill="#000" />
<polyline points="2598.9,2333.9 2598.9,1913.2 2731.0,1913.2 2731.0,2159.0" fill="none" stroke="#000" stroke-width="6.5" stroke-linejoin="round"/>
<polyline points="2746.3,2159.0 2746.3,1913.2 3164.0,1913.2 3164.0,2246.5" fill="none" stroke="#000" stroke-width="6.5" stroke-linejoin="round"/>
<polyline points="2746.3,2159.0 2746.3,2001.0 3021.9,2001.0 3021.9,2244.0" fill="none" stroke="#000" stroke-width="6.5" stroke-linejoin="round"/>
<polyline points="2746.3,2159.0 2746.3,2078.0 2883.8,2078.0 2883.8,2246.5" fill="none" stroke="#000" stroke-width="6.5" stroke-linejoin="round"/>
<text x="2391.5" y="1789.0" font-size="56" font-family="Liberation Serif" font-weight="bold" textLength="42.5" lengthAdjust="spacingAndGlyphs">G</text>
<text x="2379.0" y="2480.7" font-size="42" font-family="Liberation Serif" font-weight="bold" textLength="560.0" lengthAdjust="spacingAndGlyphs" transform="rotate(-90 2379.0 2480.7)">Relative expression of PFKFB3</text>
<line x1="2646.4" y1="1852.2" x2="2646.4" y2="1886.2" stroke="#222" stroke-width="2.4"/>
<line x1="2657.3" y1="1852.2" x2="2657.3" y2="1886.2" stroke="#222" stroke-width="2.4"/>
<line x1="2640.5" y1="1862.1" x2="2661.5" y2="1862.1" stroke="#111" stroke-width="3.2"/>
<line x1="2640.5" y1="1876.3" x2="2661.5" y2="1876.3" stroke="#111" stroke-width="3.2"/>
<line x1="2672.4" y1="1852.2" x2="2672.4" y2="1886.2" stroke="#222" stroke-width="2.4"/>
<line x1="2683.3" y1="1852.2" x2="2683.3" y2="1886.2" stroke="#222" stroke-width="2.4"/>
<line x1="2666.5" y1="1862.1" x2="2687.5" y2="1862.1" stroke="#111" stroke-width="3.2"/>
<line x1="2666.5" y1="1876.3" x2="2687.5" y2="1876.3" stroke="#111" stroke-width="3.2"/>
<line x1="2936.3" y1="1862.7" x2="2936.3" y2="1889.7" stroke="#000" stroke-width="5.2"/>
<line x1="2924.6" y1="1869.5" x2="2948.0" y2="1883.0" stroke="#000" stroke-width="5.2"/>
<line x1="2948.0" y1="1869.5" x2="2924.6" y2="1883.0" stroke="#000" stroke-width="5.2"/>
<line x1="2971.1" y1="1862.7" x2="2971.1" y2="1889.7" stroke="#000" stroke-width="5.2"/>
<line x1="2959.4" y1="1869.5" x2="2982.8" y2="1883.0" stroke="#000" stroke-width="5.2"/>
<line x1="2982.8" y1="1869.5" x2="2959.4" y2="1883.0" stroke="#000" stroke-width="5.2"/>
<line x1="2881.5" y1="1950.0" x2="2881.5" y2="1977.0" stroke="#000" stroke-width="5.2"/>
<line x1="2869.8" y1="1956.8" x2="2893.2" y2="1970.2" stroke="#000" stroke-width="5.2"/>
<line x1="2893.2" y1="1956.8" x2="2869.8" y2="1970.2" stroke="#000" stroke-width="5.2"/>
<line x1="2814.5" y1="2028.7" x2="2814.5" y2="2055.7" stroke="#000" stroke-width="5.2"/>
<line x1="2802.8" y1="2035.5" x2="2826.2" y2="2048.9" stroke="#000" stroke-width="5.2"/>
<line x1="2826.2" y1="2035.5" x2="2802.8" y2="2048.9" stroke="#000" stroke-width="5.2"/>
<rect x="377.0" y="3239.6" width="98.7" height="113.9" fill="#616161" />
<rect x="527.5" y="2977.7" width="96.2" height="375.8" fill="#000" />
<rect x="675.0" y="3024.6" width="96.8" height="328.9" fill="#139AB4" />
<rect x="823.0" y="3223.0" width="98.6" height="130.5" fill="#FA6694" />
<rect x="971.0" y="3091.0" width="99.0" height="262.5" fill="#FF0000" />
<rect x="402.6" y="3218.3" width="47.4" height="2.4" fill="#616161" />
<rect x="425.1" y="3219.5" width="2.5" height="21.1" fill="#616161" />
<rect x="550.6" y="2961.8" width="48.2" height="2.4" fill="#000" />
<rect x="573.5" y="2963.0" width="2.5" height="15.7" fill="#000" />
<rect x="698.7" y="3005.7" width="47.3" height="2.4" fill="#139AB4" />
<rect x="721.1" y="3006.9" width="2.5" height="18.7" fill="#139AB4" />
<rect x="846.7" y="3208.5" width="47.3" height="2.4" fill="#FA6694" />
<rect x="869.1" y="3209.7" width="2.5" height="14.3" fill="#FA6694" />
<rect x="996.5" y="3071.8" width="47.5" height="2.4" fill="#FF0000" />
<rect x="1019.0" y="3073.0" width="2.5" height="19.0" fill="#FF0000" />
<rect x="326.2" y="2788.7" width="6.5" height="568.1" fill="#000" />
<rect x="302.7" y="3350.2" width="818.7" height="6.5" fill="#000" />
<rect x="302.7" y="2788.7" width="26.8" height="6.5" fill="#000" />
<text x="293.4" y="2806.7" font-size="40" font-family="Liberation Sans" font-weight="bold" text-anchor="end" textLength="60.0" lengthAdjust="spacingAndGlyphs">1.5</text>
<rect x="302.7" y="2975.8" width="26.8" height="6.5" fill="#000" />
<text x="293.4" y="2993.9" font-size="40" font-family="Liberation Sans" font-weight="bold" text-anchor="end" textLength="60.0" lengthAdjust="spacingAndGlyphs">1.0</text>
<rect x="302.7" y="3163.1" width="26.8" height="6.5" fill="#000" />
<text x="293.4" y="3181.1" font-size="40" font-family="Liberation Sans" font-weight="bold" text-anchor="end" textLength="60.0" lengthAdjust="spacingAndGlyphs">0.5</text>
<rect x="302.7" y="3350.2" width="26.8" height="6.5" fill="#000" />
<text x="293.4" y="3368.3" font-size="40" font-family="Liberation Sans" font-weight="bold" text-anchor="end" textLength="60.0" lengthAdjust="spacingAndGlyphs">0.0</text>
<rect x="423.1" y="3353.5" width="6.5" height="23.1" fill="#000" />
<rect x="570.5" y="3353.5" width="6.5" height="23.1" fill="#000" />
<rect x="720.4" y="3353.5" width="6.5" height="23.1" fill="#000" />
<rect x="869.0" y="3353.5" width="6.5" height="23.1" fill="#000" />
<rect x="1017.6" y="3353.5" width="6.5" height="23.1" fill="#000" />
<polyline points="426.4,3153.0 426.4,2775.4 565.9,2775.4 565.9,2944.8" fill="none" stroke="#000" stroke-width="6.5" stroke-linejoin="round"/>
<polyline points="587.8,2944.8 587.8,2775.4 1020.9,2775.4 1020.9,3019.0" fill="none" stroke="#000" stroke-width="6.5" stroke-linejoin="round"/>
<polyline points="587.8,2944.8 587.8,2849.0 873.5,2849.0 873.5,3153.0" fill="none" stroke="#000" stroke-width="6.5" stroke-linejoin="round"/>
<text x="70.0" y="2743.8" font-size="56" font-family="Liberation Serif" font-weight="bold" textLength="42.7" lengthAdjust="spacingAndGlyphs">H</text>
<text x="203.0" y="3378.5" font-size="42" font-family="Liberation Serif" textLength="632.0" lengthAdjust="spacingAndGlyphs" transform="rotate(-90 203.0 3378.5)">Relative nuclear expression of HIF-1α</text>
<line x1="478.8" y1="2717.3" x2="478.8" y2="2751.3" stroke="#222" stroke-width="2.4"/>
<line x1="489.7" y1="2717.3" x2="489.7" y2="2751.3" stroke="#222" stroke-width="2.4"/>
<line x1="472.9" y1="2727.2" x2="493.9" y2="2727.2" stroke="#111" stroke-width="3.2"/>
<line x1="472.9" y1="2741.4" x2="493.9" y2="2741.4" stroke="#111" stroke-width="3.2"/>
<line x1="504.8" y1="2717.3" x2="504.8" y2="2751.3" stroke="#222" stroke-width="2.4"/>
<line x1="515.7" y1="2717.3" x2="515.7" y2="2751.3" stroke="#222" stroke-width="2.4"/>
<line x1="498.9" y1="2727.2" x2="519.9" y2="2727.2" stroke="#111" stroke-width="3.2"/>
<line x1="498.9" y1="2741.4" x2="519.9" y2="2741.4" stroke="#111" stroke-width="3.2"/>
<line x1="784.3" y1="2729.2" x2="784.3" y2="2752.8" stroke="#000" stroke-width="4.5"/>
<line x1="774.1" y1="2735.1" x2="794.5" y2="2746.9" stroke="#000" stroke-width="4.5"/>
<line x1="794.5" y1="2735.1" x2="774.1" y2="2746.9" stroke="#000" stroke-width="4.5"/>
<line x1="816.5" y1="2729.2" x2="816.5" y2="2752.8" stroke="#000" stroke-width="4.5"/>
<line x1="806.3" y1="2735.1" x2="826.7" y2="2746.9" stroke="#000" stroke-width="4.5"/>
<line x1="826.7" y1="2735.1" x2="806.3" y2="2746.9" stroke="#000" stroke-width="4.5"/>
<line x1="711.2" y1="2802.2" x2="711.2" y2="2825.8" stroke="#000" stroke-width="4.5"/>
<line x1="701.0" y1="2808.1" x2="721.4" y2="2819.9" stroke="#000" stroke-width="4.5"/>
<line x1="721.4" y1="2808.1" x2="701.0" y2="2819.9" stroke="#000" stroke-width="4.5"/>
<line x1="743.4" y1="2802.2" x2="743.4" y2="2825.8" stroke="#000" stroke-width="4.5"/>
<line x1="733.2" y1="2808.1" x2="753.6" y2="2819.9" stroke="#000" stroke-width="4.5"/>
<line x1="753.6" y1="2808.1" x2="733.2" y2="2819.9" stroke="#000" stroke-width="4.5"/>
<rect x="1458.8" y="2957.6" width="112.7" height="388.4" fill="#000" />
<rect x="1627.5" y="2975.8" width="112.7" height="370.2" fill="#139AB4" />
<rect x="1796.2" y="2973.4" width="112.8" height="372.6" fill="#FA6694" />
<rect x="1965.0" y="3003.2" width="112.7" height="342.8" fill="#FF0000" />
<rect x="1486.8" y="2945.8" width="55.2" height="6.5" fill="#000" />
<rect x="1511.2" y="2949.0" width="6.5" height="9.6" fill="#000" />
<rect x="1655.5" y="2972.0" width="54.2" height="4.0" fill="#139AB4" />
<rect x="1680.6" y="2974.0" width="4.0" height="2.8" fill="#139AB4" />
<rect x="1823.6" y="2964.1" width="55.4" height="6.5" fill="#FA6694" />
<rect x="1848.0" y="2967.3" width="6.5" height="7.1" fill="#FA6694" />
<rect x="1993.0" y="2998.0" width="54.8" height="5.0" fill="#FF0000" />
<rect x="2017.2" y="3000.5" width="6.5" height="3.7" fill="#FF0000" />
<rect x="1399.5" y="2758.2" width="6.5" height="591.0" fill="#000" />
<rect x="1377.8" y="3342.8" width="757.7" height="6.5" fill="#000" />
<rect x="1377.8" y="2758.2" width="24.9" height="6.5" fill="#000" />
<text x="1368.8" y="2776.0" font-size="39" font-family="Liberation Serif" font-weight="bold" text-anchor="end">1.5</text>
<rect x="1377.8" y="2952.9" width="24.9" height="6.5" fill="#000" />
<text x="1368.8" y="2970.7" font-size="39" font-family="Liberation Serif" font-weight="bold" text-anchor="end">1.0</text>
<rect x="1377.8" y="3148.1" width="24.9" height="6.5" fill="#000" />
<text x="1368.8" y="3165.8" font-size="39" font-family="Liberation Serif" font-weight="bold" text-anchor="end">0.5</text>
<rect x="1377.8" y="3342.8" width="24.9" height="6.5" fill="#000" />
<text x="1368.8" y="3360.5" font-size="39" font-family="Liberation Serif" font-weight="bold" text-anchor="end">0.0</text>
<rect x="1511.5" y="3346.0" width="6.5" height="24.0" fill="#000" />
<rect x="1680.2" y="3346.0" width="6.5" height="24.0" fill="#000" />
<rect x="1849.0" y="3346.0" width="6.5" height="24.0" fill="#000" />
<rect x="2017.8" y="3346.0" width="6.5" height="24.0" fill="#000" />
<polyline points="1503.0,2921.0 1503.0,2765.0 2024.0,2765.0 2024.0,2983.7" fill="none" stroke="#000" stroke-width="6.5" stroke-linejoin="round"/>
<text x="1161.0" y="2743.8" font-size="56" font-family="Liberation Serif" font-weight="bold" textLength="20.0" lengthAdjust="spacingAndGlyphs">I</text>
<text x="1282.0" y="3366.0" font-size="42" font-family="Liberation Serif" textLength="629.0" lengthAdjust="spacingAndGlyphs" transform="rotate(-90 1282.0 3366.0)">Relative expression level of F-1,6-BP</text>
<line x1="1746.9" y1="2719.0" x2="1746.9" y2="2742.6" stroke="#000" stroke-width="4.5"/>
<line x1="1736.7" y1="2724.9" x2="1757.1" y2="2736.7" stroke="#000" stroke-width="4.5"/>
<line x1="1757.1" y1="2724.9" x2="1736.7" y2="2736.7" stroke="#000" stroke-width="4.5"/>
<line x1="1779.1" y1="2719.0" x2="1779.1" y2="2742.6" stroke="#000" stroke-width="4.5"/>
<line x1="1768.9" y1="2724.9" x2="1789.3" y2="2736.7" stroke="#000" stroke-width="4.5"/>
<line x1="1789.3" y1="2724.9" x2="1768.9" y2="2736.7" stroke="#000" stroke-width="4.5"/>
<rect x="2561.3" y="2966.7" width="115.1" height="377.0" fill="#000" />
<rect x="2734.3" y="3031.3" width="115.1" height="312.4" fill="#139AB4" />
<rect x="2906.0" y="3003.8" width="116.4" height="339.9" fill="#FA6694" />
<rect x="3079.0" y="3029.4" width="115.0" height="314.3" fill="#FF0000" />
<rect x="2591.0" y="2961.0" width="55.0" height="5.0" fill="#000" />
<rect x="2615.2" y="2963.5" width="6.5" height="4.2" fill="#000" />
<rect x="2763.0" y="3026.0" width="56.0" height="5.0" fill="#139AB4" />
<rect x="2787.8" y="3028.5" width="6.5" height="3.8" fill="#139AB4" />
<rect x="2936.0" y="2998.1" width="56.0" height="5.0" fill="#FA6694" />
<rect x="2960.8" y="3000.6" width="6.5" height="4.2" fill="#FA6694" />
<rect x="3109.0" y="3019.5" width="54.7" height="5.0" fill="#FF0000" />
<rect x="3133.1" y="3022.0" width="6.5" height="8.4" fill="#FF0000" />
<rect x="2501.3" y="2775.8" width="6.5" height="571.2" fill="#000" />
<rect x="2477.8" y="3340.4" width="776.8" height="6.5" fill="#000" />
<rect x="2477.8" y="2775.8" width="26.8" height="6.5" fill="#000" />
<text x="2470.8" y="2789.5" font-size="37.5" font-family="Liberation Serif" text-anchor="end" textLength="49.0" lengthAdjust="spacingAndGlyphs">1.5</text>
<rect x="2477.8" y="2963.9" width="26.8" height="6.5" fill="#000" />
<text x="2470.8" y="2977.7" font-size="37.5" font-family="Liberation Serif" text-anchor="end" textLength="49.0" lengthAdjust="spacingAndGlyphs">1.0</text>
<rect x="2477.8" y="3152.2" width="26.8" height="6.5" fill="#000" />
<text x="2470.8" y="3166.0" font-size="37.5" font-family="Liberation Serif" text-anchor="end" textLength="49.0" lengthAdjust="spacingAndGlyphs">0.5</text>
<rect x="2477.8" y="3340.4" width="26.8" height="6.5" fill="#000" />
<text x="2470.8" y="3354.2" font-size="37.5" font-family="Liberation Serif" text-anchor="end" textLength="49.0" lengthAdjust="spacingAndGlyphs">0.0</text>
<rect x="2615.8" y="3343.7" width="6.5" height="22.6" fill="#000" />
<rect x="2787.8" y="3343.7" width="6.5" height="22.6" fill="#000" />
<rect x="2961.2" y="3343.7" width="6.5" height="22.6" fill="#000" />
<rect x="3133.8" y="3343.7" width="6.5" height="22.6" fill="#000" />
<polyline points="2615.5,2953.3 2615.5,2775.4 3137.5,2775.4 3137.5,3017.0" fill="none" stroke="#000" stroke-width="6.5" stroke-linejoin="round"/>
<polyline points="2615.5,2953.3 2615.5,2851.3 2964.5,2851.3 2964.5,2999.0" fill="none" stroke="#000" stroke-width="6.5" stroke-linejoin="round"/>
<polyline points="2615.5,2953.3 2615.5,2925.9 2791.0,2925.9 2791.0,3017.0" fill="none" stroke="#000" stroke-width="6.5" stroke-linejoin="round"/>
<text x="2266.4" y="2743.5" font-size="56" font-family="Liberation Serif" font-weight="bold" textLength="28.0" lengthAdjust="spacingAndGlyphs">J</text>
<text x="2379.0" y="3350.4" font-size="42" font-family="Liberation Serif" textLength="589.0" lengthAdjust="spacingAndGlyphs" transform="rotate(-90 2379.0 3350.4)">Relative expression level of Lactate</text>
<line x1="2859.5" y1="2730.0" x2="2859.5" y2="2753.6" stroke="#000" stroke-width="4.5"/>
<line x1="2849.3" y1="2735.9" x2="2869.7" y2="2747.7" stroke="#000" stroke-width="4.5"/>
<line x1="2869.7" y1="2735.9" x2="2849.3" y2="2747.7" stroke="#000" stroke-width="4.5"/>
<line x1="2891.7" y1="2730.0" x2="2891.7" y2="2753.6" stroke="#000" stroke-width="4.5"/>
<line x1="2881.5" y1="2735.9" x2="2901.9" y2="2747.7" stroke="#000" stroke-width="4.5"/>
<line x1="2901.9" y1="2735.9" x2="2881.5" y2="2747.7" stroke="#000" stroke-width="4.5"/>
<line x1="2773.6" y1="2804.2" x2="2773.6" y2="2827.8" stroke="#000" stroke-width="4.5"/>
<line x1="2763.4" y1="2810.1" x2="2783.8" y2="2821.9" stroke="#000" stroke-width="4.5"/>
<line x1="2783.8" y1="2810.1" x2="2763.4" y2="2821.9" stroke="#000" stroke-width="4.5"/>
<line x1="2805.8" y1="2804.2" x2="2805.8" y2="2827.8" stroke="#000" stroke-width="4.5"/>
<line x1="2795.6" y1="2810.1" x2="2816.0" y2="2821.9" stroke="#000" stroke-width="4.5"/>
<line x1="2816.0" y1="2810.1" x2="2795.6" y2="2821.9" stroke="#000" stroke-width="4.5"/>
<line x1="2685.9" y1="2879.2" x2="2685.9" y2="2902.8" stroke="#000" stroke-width="4.5"/>
<line x1="2675.7" y1="2885.1" x2="2696.1" y2="2896.9" stroke="#000" stroke-width="4.5"/>
<line x1="2696.1" y1="2885.1" x2="2675.7" y2="2896.9" stroke="#000" stroke-width="4.5"/>
<line x1="2718.1" y1="2879.2" x2="2718.1" y2="2902.8" stroke="#000" stroke-width="4.5"/>
<line x1="2707.9" y1="2885.1" x2="2728.3" y2="2896.9" stroke="#000" stroke-width="4.5"/>
<line x1="2728.3" y1="2885.1" x2="2707.9" y2="2896.9" stroke="#000" stroke-width="4.5"/>
<text x="1458.2" y="1620.8" font-size="40" font-family="Liberation Serif" font-weight="bold" textLength="116.0" lengthAdjust="spacing">Model</text>
<text x="1652.4" y="1620.8" font-size="40" font-family="Liberation Serif" font-weight="bold" textLength="84.3" lengthAdjust="spacing">5-Fu</text>
<text x="1821.7" y="1620.8" font-size="40" font-family="Liberation Serif" font-weight="bold" textLength="55.7" lengthAdjust="spacing">AC</text>
<text x="1881.3" y="1601.0" font-size="28" font-family="Liberation Serif" textLength="44.8" lengthAdjust="spacing">low</text>
<text x="1995.4" y="1620.8" font-size="40" font-family="Liberation Serif" font-weight="bold" textLength="57.2" lengthAdjust="spacing">AC</text>
<text x="2057.2" y="1601.0" font-size="28" font-family="Liberation Serif" textLength="55.0" lengthAdjust="spacing">high</text>
<text x="2530.9" y="1622.7" font-size="40" font-family="Liberation Serif" font-weight="bold" textLength="116.0" lengthAdjust="spacing">Model</text>
<text x="2729.0" y="1622.7" font-size="40" font-family="Liberation Serif" font-weight="bold" textLength="81.6" lengthAdjust="spacing">5-Fu</text>
<text x="2897.5" y="1622.7" font-size="40" font-family="Liberation Serif" font-weight="bold" textLength="58.8" lengthAdjust="spacing">AC</text>
<text x="2959.0" y="1603.0" font-size="28" font-family="Liberation Serif" textLength="43.0" lengthAdjust="spacing">low</text>
<text x="3072.3" y="1622.7" font-size="40" font-family="Liberation Serif" font-weight="bold" textLength="58.8" lengthAdjust="spacing">AC</text>
<text x="3134.2" y="1603.0" font-size="28" font-family="Liberation Serif" textLength="55.3" lengthAdjust="spacing">high</text>
<text x="1557.4" y="2572.3" font-size="40" font-family="Liberation Serif" font-weight="bold" textLength="99.4" lengthAdjust="spacing">Sham</text>
<text x="1696.6" y="2572.3" font-size="40" font-family="Liberation Serif" font-weight="bold" textLength="116.0" lengthAdjust="spacing">Model</text>
<text x="1856.3" y="2572.3" font-size="40" font-family="Liberation Serif" font-weight="bold" textLength="89.0" lengthAdjust="spacing">5-FU</text>
<text x="1995.5" y="2572.3" font-size="40" font-family="Liberation Serif" font-weight="bold" textLength="57.6" lengthAdjust="spacing">AC</text>
<text x="2055.0" y="2551.0" font-size="30" font-family="Liberation Serif" textLength="50.7" lengthAdjust="spacing">low</text>
<text x="2138.6" y="2572.3" font-size="40" font-family="Liberation Serif" font-weight="bold" textLength="57.6" lengthAdjust="spacing">AC</text>
<text x="2198.5" y="2551.0" font-size="30" font-family="Liberation Serif" textLength="57.0" lengthAdjust="spacing">high</text>
<text x="2548.6" y="2572.3" font-size="40" font-family="Liberation Serif" font-weight="bold" textLength="97.4" lengthAdjust="spacing">Sham</text>
<text x="2683.5" y="2572.3" font-size="40" font-family="Liberation Serif" font-weight="bold" textLength="111.4" lengthAdjust="spacing">Model</text>
<text x="2835.5" y="2572.3" font-size="40" font-family="Liberation Serif" font-weight="bold" textLength="88.2" lengthAdjust="spacing">5-FU</text>
<text x="2968.9" y="2572.3" font-size="40" font-family="Liberation Serif" font-weight="bold" textLength="56.0" lengthAdjust="spacing">AC</text>
<text x="3027.7" y="2553.0" font-size="30" font-family="Liberation Serif" textLength="48.3" lengthAdjust="spacing">low</text>
<text x="3105.0" y="2572.3" font-size="40" font-family="Liberation Serif" font-weight="bold" textLength="57.2" lengthAdjust="spacing">AC</text>
<text x="3164.2" y="2553.0" font-size="30" font-family="Liberation Serif" textLength="55.3" lengthAdjust="spacing">high</text>
<text x="376.2" y="3416.6" font-size="39" font-family="Liberation Serif" font-weight="bold" textLength="99.8" lengthAdjust="spacing">Sham</text>
<text x="515.8" y="3416.6" font-size="39" font-family="Liberation Serif" font-weight="bold" textLength="115.6" lengthAdjust="spacing">Model</text>
<text x="677.0" y="3416.6" font-size="39" font-family="Liberation Serif" font-weight="bold" textLength="90.0" lengthAdjust="spacing">5-FU</text>
<text x="817.0" y="3416.6" font-size="39" font-family="Liberation Serif" font-weight="bold" textLength="59.0" lengthAdjust="spacing">AC</text>
<text x="878.2" y="3398.0" font-size="28" font-family="Liberation Serif" textLength="43.3" lengthAdjust="spacing">low</text>
<text x="960.5" y="3416.6" font-size="39" font-family="Liberation Serif" font-weight="bold" textLength="58.8" lengthAdjust="spacing">AC</text>
<text x="1022.0" y="3398.0" font-size="28" font-family="Liberation Serif" textLength="57.3" lengthAdjust="spacing">high</text>
<text x="1459.0" y="3411.5" font-size="40" font-family="Liberation Serif" font-weight="bold" textLength="108.3" lengthAdjust="spacing">Model</text>
<text x="1640.7" y="3411.5" font-size="40" font-family="Liberation Serif" font-weight="bold" textLength="81.2" lengthAdjust="spacing">5-Fu</text>
<text x="1799.3" y="3411.5" font-size="40" font-family="Liberation Serif" font-weight="bold" textLength="57.2" lengthAdjust="spacing">AC</text>
<text x="1855.4" y="3393.0" font-size="28" font-family="Liberation Serif" textLength="43.7" lengthAdjust="spacing">low</text>
<text x="1966.3" y="3411.5" font-size="40" font-family="Liberation Serif" font-weight="bold" textLength="55.3" lengthAdjust="spacing">AC</text>
<text x="2022.8" y="3393.0" font-size="28" font-family="Liberation Serif" textLength="52.2" lengthAdjust="spacing">high</text>
<text x="2563.6" y="3404.6" font-size="40" font-family="Liberation Serif" textLength="108.7" lengthAdjust="spacing">Model</text>
<text x="2750.4" y="3404.6" font-size="40" font-family="Liberation Serif" textLength="78.5" lengthAdjust="spacing">5-Fu</text>
<text x="2910.9" y="3404.6" font-size="40" font-family="Liberation Serif" textLength="56.0" lengthAdjust="spacing">AC</text>
<text x="2970.0" y="3386.0" font-size="28" font-family="Liberation Serif" textLength="43.3" lengthAdjust="spacing">low</text>
<text x="3079.9" y="3404.6" font-size="40" font-family="Liberation Serif" textLength="55.3" lengthAdjust="spacing">AC</text>
<text x="3139.0" y="3386.0" font-size="28" font-family="Liberation Serif" textLength="53.0" lengthAdjust="spacing">high</text>
<text x="41.7" y="1789.0" font-size="56" font-family="Liberation Serif" font-weight="bold" textLength="34.3" lengthAdjust="spacingAndGlyphs">E</text>
<text x="197.5" y="1946.0" font-size="47.5" font-family="Liberation Serif" font-weight="bold" textLength="151.0" lengthAdjust="spacingAndGlyphs">HIF-1α</text>
<text x="172.9" y="2104.0" font-size="47.5" font-family="Liberation Serif" font-weight="bold" textLength="178.5" lengthAdjust="spacingAndGlyphs">PFKFB3</text>
<text x="208.2" y="2237.0" font-size="47.5" font-family="Liberation Serif" font-weight="bold" textLength="140.4" lengthAdjust="spacingAndGlyphs">β-actin</text>
<text x="199.6" y="2355.0" font-size="47.5" font-family="Liberation Serif" font-weight="bold" textLength="147.0" lengthAdjust="spacingAndGlyphs">HIF-1a</text>
<text x="36.0" y="2403.2" font-size="35" font-family="Liberation Serif" font-weight="bold" textLength="312.5" lengthAdjust="spacingAndGlyphs">Nuclear expression</text>
<text x="185.4" y="2530.0" font-size="47.5" font-family="Liberation Serif" font-weight="bold" textLength="170.3" lengthAdjust="spacingAndGlyphs">laminB1</text>
<text x="454.0" y="1825.0" font-size="57" font-family="Liberation Serif" font-weight="bold" textLength="140.5" lengthAdjust="spacingAndGlyphs" transform="rotate(-36 454.0 1825.0)">Sham</text>
<text x="623.8" y="1834.0" font-size="57" font-family="Liberation Serif" font-weight="bold" textLength="155.0" lengthAdjust="spacingAndGlyphs" transform="rotate(-36 623.8 1834.0)">Model</text>
<text x="794.0" y="1825.0" font-size="57" font-family="Liberation Serif" font-weight="bold" textLength="111.0" lengthAdjust="spacingAndGlyphs" transform="rotate(-36 794.0 1825.0)">5-Fu</text>
<g transform="translate(954.7,1830.5) rotate(-38)"><text x="0" y="0" font-size="57" font-family="Liberation Serif" font-weight="bold">AC</text><text x="80" y="-15" font-size="35" font-family="Liberation Serif" font-weight="bold">low</text></g>
<g transform="translate(1102,1830.5) rotate(-38)"><text x="0" y="0" font-size="57" font-family="Liberation Serif" font-weight="bold">AC</text><text x="80" y="-15" font-size="35" font-family="Liberation Serif" font-weight="bold">high</text></g>
<g clip-path="url(#cb1)">
<rect x="368.0" y="1866.5" width="818.0" height="132.5" fill="#B6B6B6" />
<rect x="395.0" y="1846.5" width="105.0" height="172.5" fill="#ADADAD" filter="url(#bl8)"/>
<rect x="555.0" y="1846.5" width="113.0" height="172.5" fill="#A8A8A8" filter="url(#bl8)"/>
<rect x="717.0" y="1846.5" width="113.0" height="172.5" fill="#ACACAC" filter="url(#bl8)"/>
<rect x="880.0" y="1846.5" width="112.0" height="172.5" fill="#AAAAAA" filter="url(#bl8)"/>
<rect x="1050.0" y="1846.5" width="118.0" height="172.5" fill="#ACACAC" filter="url(#bl8)"/>
<rect x="400.0" y="1911.5" width="99.0" height="19.0" rx="7.6" fill="#8C8C8C" filter="url(#bl6)"/>
<rect x="557.0" y="1908.5" width="108.0" height="25.0" rx="10.0" fill="#000000" filter="url(#bl4)"/>
<rect x="719.0" y="1921.5" width="109.0" height="21.0" rx="8.4" fill="#303030" filter="url(#bl4)"/>
<rect x="883.0" y="1922.5" width="107.0" height="21.0" rx="8.4" fill="#303030" filter="url(#bl4)"/>
<rect x="1052.0" y="1923.0" width="114.0" height="25.0" rx="10.0" fill="#030303" filter="url(#bl4)"/>
</g>
<rect x="369.75" y="1868.25" width="814.5" height="129.0" fill="none" stroke="#000" stroke-width="3.5"/>
<g clip-path="url(#cb2)">
<rect x="366.0" y="2017.0" width="818.0" height="130.0" fill="#E8E8E8" />
<rect x="366.0" y="1997.0" width="128.0" height="170.0" fill="#ADADAD" filter="url(#bl8)"/>
<rect x="562.0" y="1997.0" width="100.0" height="170.0" fill="#9C9C9C" filter="url(#bl8)"/>
<rect x="724.0" y="1997.0" width="107.0" height="170.0" fill="#A6A6A6" filter="url(#bl8)"/>
<rect x="895.0" y="1997.0" width="101.0" height="170.0" fill="#9E9E9E" filter="url(#bl8)"/>
<rect x="1068.0" y="1997.0" width="94.0" height="170.0" fill="#A4A4A4" filter="url(#bl8)"/>
<rect x="565.0" y="2022.0" width="95.0" height="36.0" fill="#808080" filter="url(#bl8)"/>
<rect x="895.0" y="2022.0" width="100.0" height="36.0" fill="#7C7C7C" filter="url(#bl8)"/>
<rect x="728.0" y="2025.0" width="100.0" height="25.0" fill="#9A9A9A" filter="url(#bl8)"/>
<rect x="1070.0" y="2025.0" width="90.0" height="25.0" fill="#989898" filter="url(#bl8)"/>
<rect x="380.0" y="2074.0" width="117.0" height="40.0" rx="16.0" fill="#8A8A8A" filter="url(#bl10)"/>
<rect x="556.0" y="2069.0" width="113.0" height="40.0" rx="16.0" fill="#060606" filter="url(#bl6)"/>
<rect x="718.0" y="2071.0" width="120.0" height="36.0" rx="14.4" fill="#404040" filter="url(#bl6)"/>
<rect x="889.0" y="2069.0" width="113.0" height="36.0" rx="14.4" fill="#3A3A3A" filter="url(#bl6)"/>
<rect x="1062.0" y="2072.0" width="106.0" height="36.0" rx="14.4" fill="#363636" filter="url(#bl6)"/>
</g>
<rect x="367.75" y="2018.75" width="814.5" height="126.5" fill="none" stroke="#000" stroke-width="3.5"/>
<g clip-path="url(#cb3)">
<rect x="368.0" y="2165.0" width="818.0" height="130.0" fill="#C9C9C9" />
<rect x="405.0" y="2145.0" width="117.0" height="170.0" fill="#BEBEBE" filter="url(#bl8)"/>
<rect x="566.0" y="2145.0" width="110.0" height="170.0" fill="#BCBCBC" filter="url(#bl8)"/>
<rect x="722.0" y="2145.0" width="109.0" height="170.0" fill="#BEBEBE" filter="url(#bl8)"/>
<rect x="872.0" y="2145.0" width="115.0" height="170.0" fill="#BCBCBC" filter="url(#bl8)"/>
<rect x="1040.0" y="2145.0" width="110.0" height="170.0" fill="#BABABA" filter="url(#bl8)"/>
<rect x="410.0" y="2250.0" width="110.0" height="50.0" fill="#B8B8B8" filter="url(#bl8)"/>
<rect x="570.0" y="2250.0" width="102.0" height="50.0" fill="#B4B4B4" filter="url(#bl8)"/>
<rect x="726.0" y="2250.0" width="102.0" height="50.0" fill="#B8B8B8" filter="url(#bl8)"/>
<rect x="876.0" y="2245.0" width="108.0" height="55.0" fill="#B6B6B6" filter="url(#bl8)"/>
<rect x="1043.0" y="2240.0" width="105.0" height="60.0" fill="#B4B4B4" filter="url(#bl8)"/>
<path d="M424.0,2229.5 Q465.0,2239.5 506.0,2229.5" fill="none" stroke="#020202" stroke-width="32.0" stroke-linecap="round" filter="url(#blu4)"/>
<path d="M583.5,2231.5 Q621.0,2241.5 658.5,2231.5" fill="none" stroke="#020202" stroke-width="33.0" stroke-linecap="round" filter="url(#blu4)"/>
<path d="M739.0,2226.5 Q776.5,2236.5 814.0,2226.5" fill="none" stroke="#020202" stroke-width="32.0" stroke-linecap="round" filter="url(#blu4)"/>
<path d="M890.5,2219.5 Q930.0,2229.5 969.5,2219.5" fill="none" stroke="#000000" stroke-width="33.0" stroke-linecap="round" filter="url(#blu4)"/>
<path d="M1057.5,2210.5 Q1095.5,2220.5 1133.5,2210.5" fill="none" stroke="#020202" stroke-width="33.0" stroke-linecap="round" filter="url(#blu4)"/>
</g>
<rect x="369.75" y="2166.75" width="814.5" height="126.5" fill="none" stroke="#000" stroke-width="3.5"/>
<g clip-path="url(#cb4)">
<rect x="366.0" y="2308.5" width="817.0" height="127.5" fill="#C6C6C6" />
<rect x="405.0" y="2288.5" width="115.0" height="167.5" fill="#BDBDBD" filter="url(#bl8)"/>
<rect x="559.0" y="2288.5" width="105.0" height="167.5" fill="#8A8A8A" filter="url(#bl8)"/>
<rect x="721.0" y="2288.5" width="109.0" height="167.5" fill="#A0A0A0" filter="url(#bl8)"/>
<rect x="875.0" y="2288.5" width="110.0" height="167.5" fill="#C2C2C2" filter="url(#bl8)"/>
<rect x="1043.0" y="2288.5" width="98.0" height="167.5" fill="#ABABAB" filter="url(#bl8)"/>
<rect x="562.0" y="2316.0" width="99.0" height="36.0" fill="#747474" filter="url(#bl8)"/>
<rect x="724.0" y="2316.0" width="104.0" height="36.0" fill="#888888" filter="url(#bl8)"/>
<rect x="562.0" y="2400.0" width="99.0" height="40.0" fill="#808080" filter="url(#bl8)"/>
<rect x="420.0" y="2370.0" width="95.0" height="20.0" rx="8.0" fill="#ACACAC" filter="url(#bl10)"/>
<rect x="558.0" y="2357.0" width="107.0" height="36.0" rx="14.4" fill="#050505" filter="url(#bl6)"/>
<rect x="720.0" y="2363.0" width="112.0" height="28.0" rx="11.2" fill="#222222" filter="url(#bl6)"/>
<rect x="880.0" y="2371.0" width="95.0" height="18.0" rx="7.2" fill="#B0B0B0" filter="url(#bl10)"/>
<rect x="1041.0" y="2361.0" width="103.0" height="28.0" rx="11.2" fill="#262626" filter="url(#bl4)"/>
</g>
<rect x="367.75" y="2310.25" width="813.5" height="124.0" fill="none" stroke="#000" stroke-width="3.5"/>
<g clip-path="url(#cb5)">
<rect x="368.0" y="2455.0" width="815.0" height="128.0" fill="#BEBEBE" />
<rect x="400.0" y="2435.0" width="116.0" height="168.0" fill="#A4A4A4" filter="url(#bl8)"/>
<rect x="550.0" y="2435.0" width="115.0" height="168.0" fill="#989898" filter="url(#bl8)"/>
<rect x="710.0" y="2435.0" width="122.0" height="168.0" fill="#A2A2A2" filter="url(#bl8)"/>
<rect x="872.0" y="2435.0" width="115.0" height="168.0" fill="#A0A0A0" filter="url(#bl8)"/>
<rect x="1034.0" y="2435.0" width="117.0" height="168.0" fill="#A2A2A2" filter="url(#bl8)"/>
<rect x="405.0" y="2462.0" width="107.0" height="38.0" fill="#8E8E8E" filter="url(#bl8)"/>
<rect x="555.0" y="2462.0" width="105.0" height="38.0" fill="#848484" filter="url(#bl8)"/>
<rect x="715.0" y="2462.0" width="113.0" height="38.0" fill="#8E8E8E" filter="url(#bl8)"/>
<rect x="876.0" y="2462.0" width="108.0" height="38.0" fill="#8A8A8A" filter="url(#bl8)"/>
<rect x="1038.0" y="2462.0" width="110.0" height="38.0" fill="#8C8C8C" filter="url(#bl8)"/>
<rect x="404.0" y="2511.0" width="111.0" height="30.0" rx="12.0" fill="#020202" filter="url(#bl4)"/>
<rect x="552.0" y="2512.0" width="112.0" height="30.0" rx="12.0" fill="#020202" filter="url(#bl4)"/>
<rect x="712.0" y="2508.0" width="118.0" height="30.0" rx="12.0" fill="#020202" filter="url(#bl4)"/>
<rect x="874.0" y="2508.0" width="112.0" height="30.0" rx="12.0" fill="#020202" filter="url(#bl4)"/>
<rect x="1036.0" y="2508.0" width="114.0" height="30.0" rx="12.0" fill="#020202" filter="url(#bl4)"/>
</g>
<rect x="369.75" y="2456.75" width="811.5" height="124.5" fill="none" stroke="#000" stroke-width="3.5"/>
</svg>
</body></html>
